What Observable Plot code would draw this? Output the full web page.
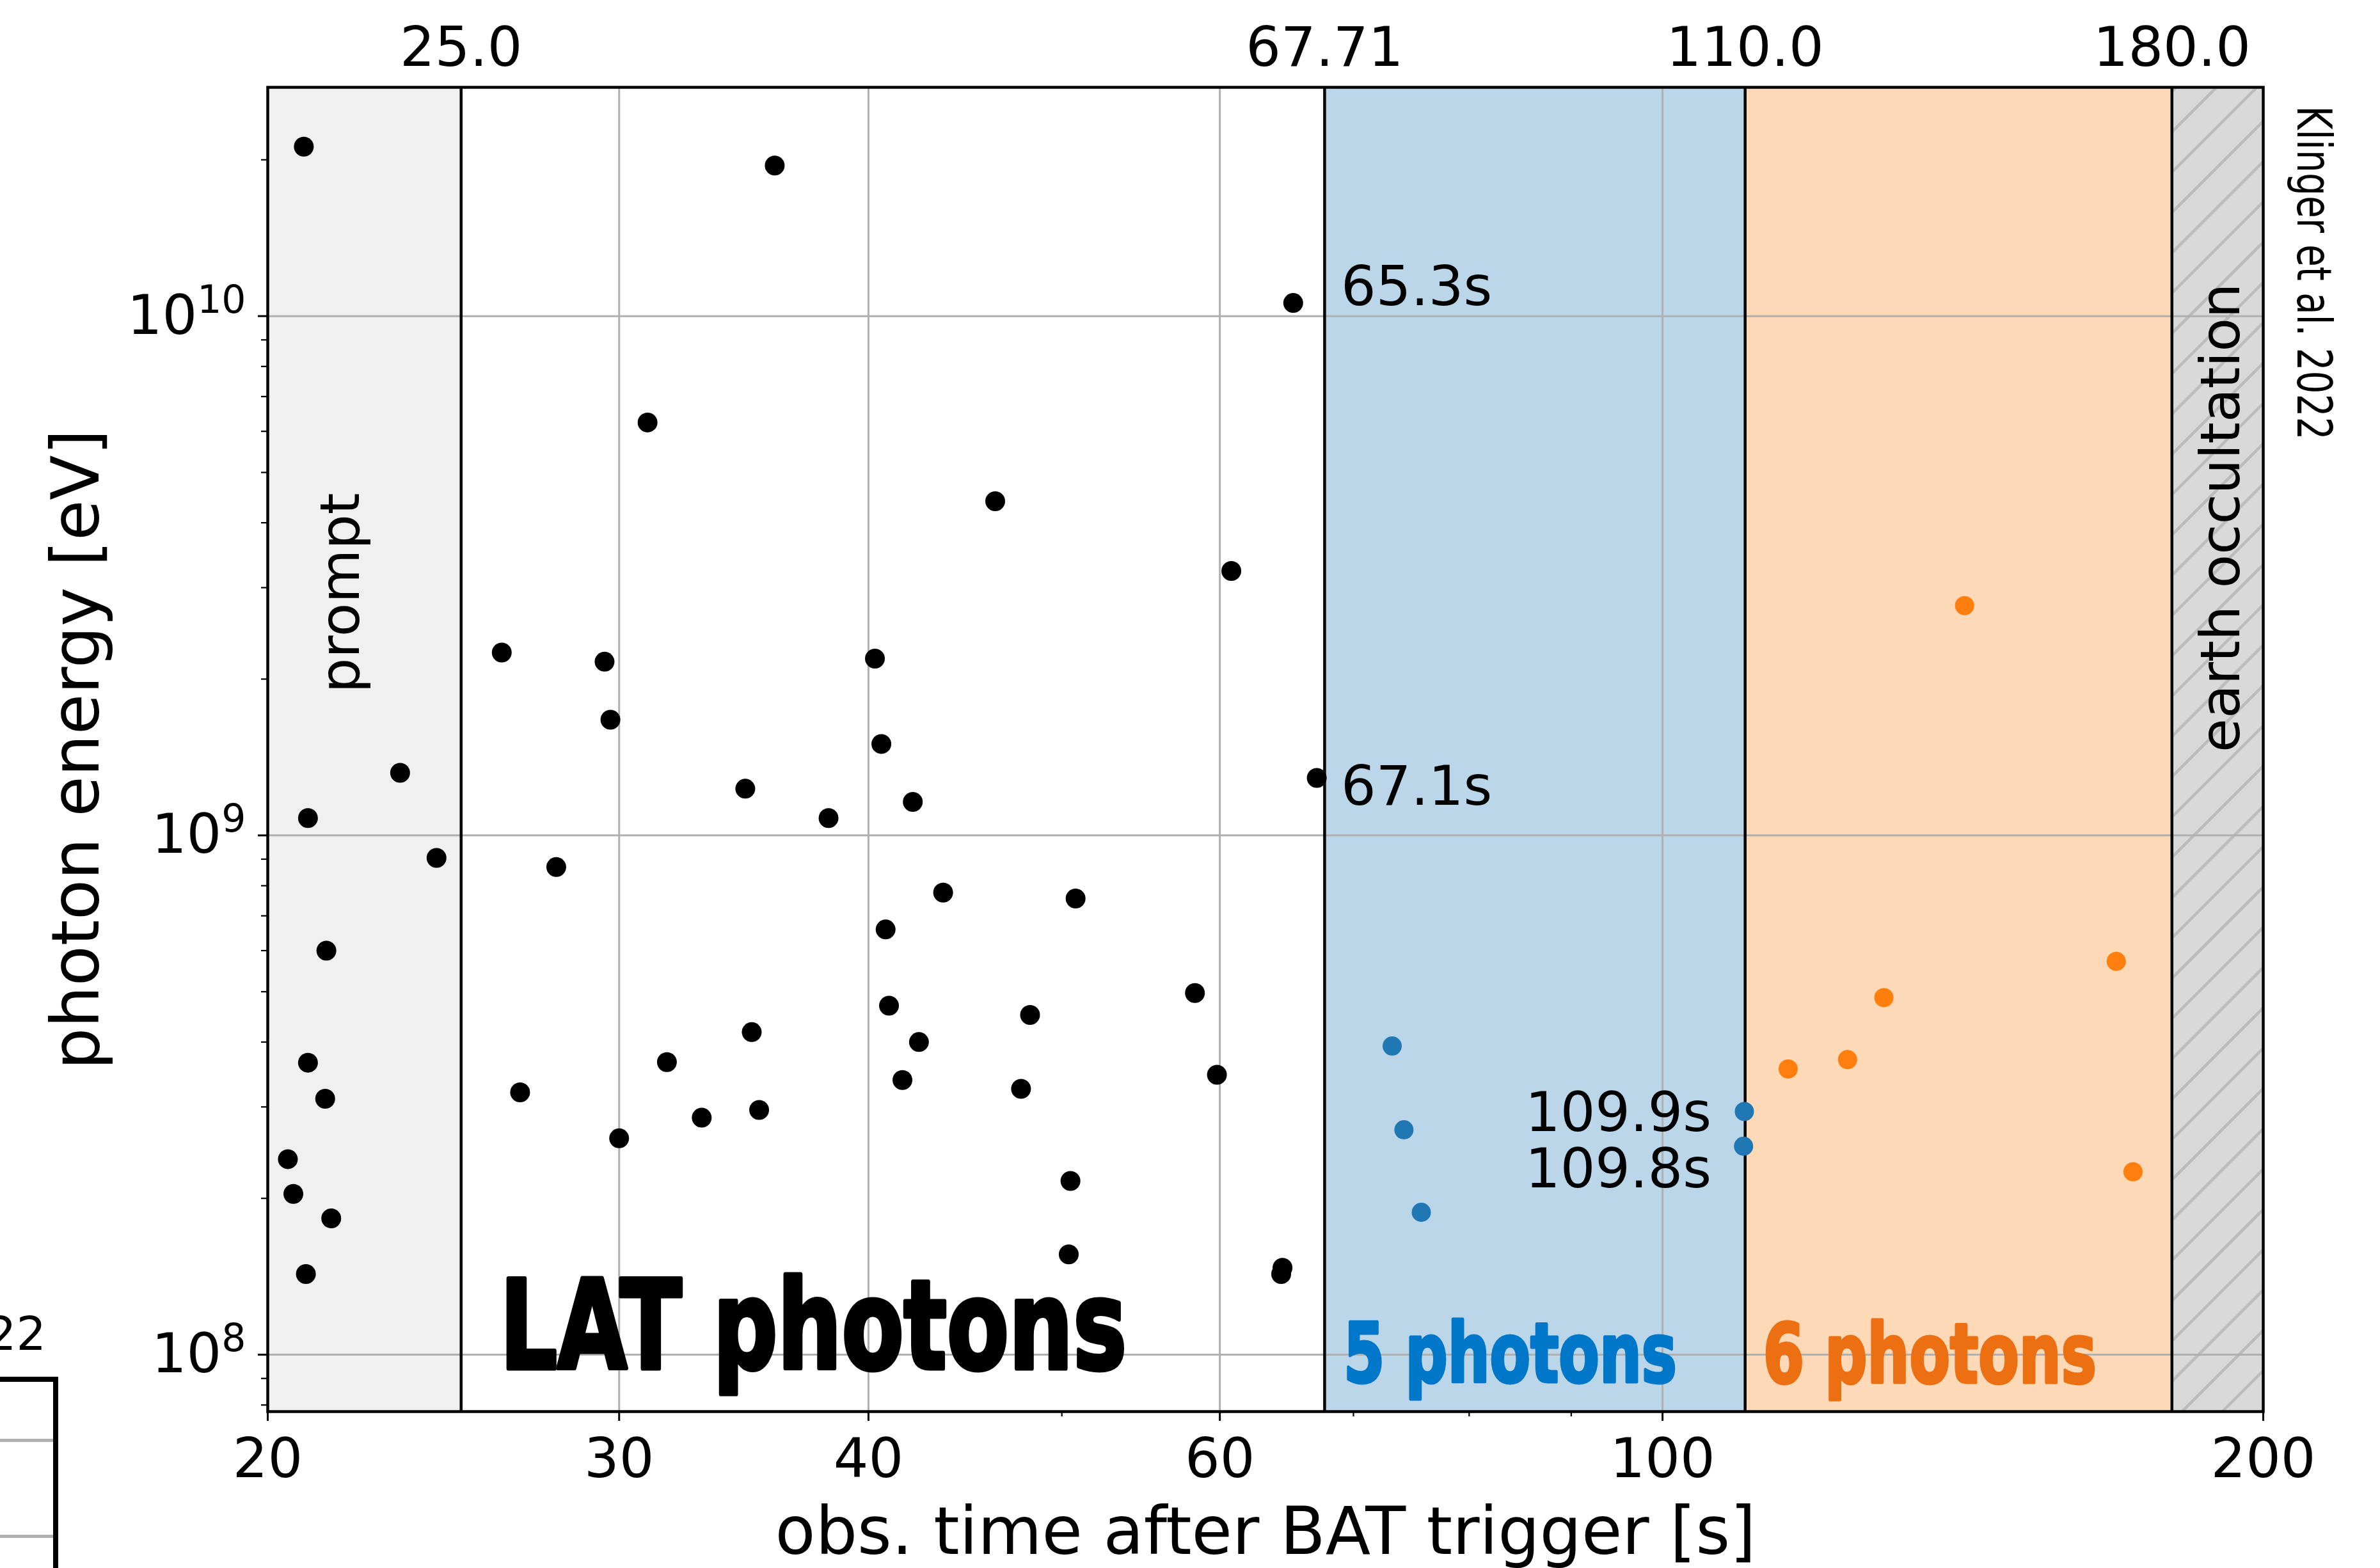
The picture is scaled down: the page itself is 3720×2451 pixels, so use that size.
<!DOCTYPE html>
<html>
<head>
<meta charset="utf-8">
<script src="https://cdn.jsdelivr.net/npm/d3@7"></script>
<script src="https://cdn.jsdelivr.net/npm/@observablehq/plot@0.6"></script>
<style>
  html, body { margin: 0; padding: 0; background: #fff; }
  #wrap { position: relative; width: 3720px; height: 2451px; overflow: hidden; background: #fff; }
  #wrap svg { display: block; }
  .frag { position: absolute; }
</style>
</head>
<body>
<div id="wrap"></div>
<script>
// ---------- data ----------
const bandStart = [20, 25, 67.71, 110, 180];
const bandEnd   = [25, 67.71, 110, 180, 200];
const bandName  = ["prompt", "lat", "five", "six", "earth"];
const boundaryTimes = [25, 67.71, 110, 180];

const topTicks = [25, 67.71, 110, 180];
const topTickLabels = ["25.0", "67.71", "110.0", "180.0"];
const xMajorTicks = [20, 30, 40, 60, 100, 200];
const xMajorLabels = ["20", "30", "40", "60", "100", "200"];
const xMinorTicks = [50, 70, 80, 90];
const xGridTicks = [30, 40, 60, 100];
const yMajorTicks = [1e8, 1e9, 1e10];
const yMajorExponents = ["8", "9", "10"];
const yMinorTicks = [8e7, 9e7, 2e8, 3e8, 4e8, 5e8, 6e8, 7e8, 8e8, 9e8,
                     2e9, 3e9, 4e9, 5e9, 6e9, 7e9, 8e9, 9e9, 2e10];

// LAT photons (black)
const latTime = [20.85, 35.9, 65.3, 31.0, 46.3, 60.8, 26.2, 29.5, 40.3, 29.7,
                 40.6, 23.3, 67.1, 34.7, 42.1, 38.2, 20.95, 24.3, 27.9, 43.6,
                 50.8, 40.8, 21.4, 58.3, 40.96, 48.2, 34.96, 42.4, 31.7, 20.95,
                 41.6, 59.8, 26.76, 47.7, 21.37, 35.26, 33.0, 30.0, 20.47, 20.6,
                 50.5, 21.52, 50.4, 64.5, 64.4, 20.9];
const latEnergy = [2.12e10, 1.95e10, 1.06e10, 6.24e9, 4.4e9, 3.23e9, 2.25e9, 2.16e9, 2.19e9, 1.67e9,
                   1.5e9, 1.32e9, 1.29e9, 1.23e9, 1.16e9, 1.08e9, 1.08e9, 9.05e8, 8.69e8, 7.76e8,
                   7.56e8, 6.59e8, 6.0e8, 4.97e8, 4.70e8, 4.51e8, 4.18e8, 4.0e8, 3.66e8, 3.65e8,
                   3.38e8, 3.46e8, 3.2e8, 3.25e8, 3.11e8, 2.96e8, 2.86e8, 2.61e8, 2.38e8, 2.04e8,
                   2.16e8, 1.83e8, 1.56e8, 1.47e8, 1.43e8, 1.43e8];
// 5 photons (blue)
const fiveTime = [73.2, 74.2, 75.7, 109.9, 109.8];
const fiveEnergy = [3.93e8, 2.71e8, 1.88e8, 2.94e8, 2.52e8];
// 6 photons (orange)
const sixTime = [115.6, 123.8, 129.1, 141.7, 168.8, 172.1];
const sixEnergy = [3.55e8, 3.70e8, 4.87e8, 2.77e9, 5.72e8, 2.25e8];

// annotations
const annoLabel = ["65.3s", "67.1s"];
const annoTime = [69.0, 69.0];
const annoEnergy = [1.134e10, 1.238e9];
const annoLabelR = ["109.9s", "109.8s"];
const annoTimeR = [105.8, 105.8];
const annoEnergyR = [2.911e8, 2.268e8];

const bigLabels = ["LAT photons", "5 photons", "6 photons"];
const bigTime = [26.14, 69.2, 112.3];
const bigEnergy = [9.42e7, 8.877e7, 8.83e7];

const regionLabels = ["prompt", "earth occultation"];
const regionTime = [21.77, 190.6];
const regionEnergy = [2.93e9, 4.09e9];

const xLabel = "obs. time after BAT trigger [s]";
const yLabel = "photon energy [eV]";
const creditLabel = "Klinger et al. 2022";

// ---------- styles ----------
const bandColor = {prompt: "#f0f0f0", lat: "#ffffff", five: "#bcd6e9", six: "#fed9b7", earth: "#d9d9d9"};
const bigColor = ["#000000", "#0077c8", "#ec7012"];

// ---------- tables ----------
const bands = bandStart.map((s, i) => ({start: s, end: bandEnd[i], name: bandName[i]}));
const lat = latTime.map((t, i) => ({t, E: latEnergy[i]}));
const five = fiveTime.map((t, i) => ({t, E: fiveEnergy[i]}));
const six = sixTime.map((t, i) => ({t, E: sixEnergy[i]}));
const annL = annoLabel.map((l, i) => ({label: l, t: annoTime[i], E: annoEnergy[i]}));
const annR = annoLabelR.map((l, i) => ({label: l, t: annoTimeR[i], E: annoEnergyR[i]}));
const big = bigLabels.map((l, i) => ({label: l, t: bigTime[i], E: bigEnergy[i], color: bigColor[i]}));
const region = regionLabels.map((l, i) => ({label: l, t: regionTime[i], E: regionEnergy[i]}));

const chart = Plot.plot({
  width: 3720,
  height: 2451,
  marginLeft: 418,
  marginRight: 183,
  marginTop: 136,
  marginBottom: 245,
  style: {fontFamily: "DejaVu Sans", fontSize: "86px", background: "white", overflow: "visible"},
  x: {type: "log", domain: [20, 200]},
  y: {type: "log", domain: [7.77e7, 2.758e10]},
  color: {type: "identity"},
  marks: [
    Plot.rect(bands, {x1: "start", x2: "end", fill: d => bandColor[d.name]}),
    Plot.rect(bands.filter(d => d.name === "earth"), {x1: "start", x2: "end", fill: "url(#hatch)"}),
    Plot.ruleX(xGridTicks, {stroke: "#b0b0b0", strokeWidth: 3}),
    Plot.ruleY(yMajorTicks, {stroke: "#b0b0b0", strokeWidth: 3}),
    Plot.ruleX(boundaryTimes, {stroke: "black", strokeWidth: 4.5}),
    Plot.frame({stroke: "black", strokeWidth: 4.5}),
    Plot.dot(lat, {x: "t", y: "E", r: 15.5, fill: "black"}),
    Plot.dot(five, {x: "t", y: "E", r: 15, fill: "#1f77b4"}),
    Plot.dot(six, {x: "t", y: "E", r: 15, fill: "#ff7f0e"}),
    Plot.text(annL, {x: "t", y: "E", text: "label", textAnchor: "start", fontSize: 86, fill: "black"}),
    Plot.text(annR, {x: "t", y: "E", text: "label", textAnchor: "end", fontSize: 86, fill: "black"}),
    Plot.text(region, {x: "t", y: "E", text: "label", rotate: -90, fontSize: 86, fill: "black"}),
    Plot.text(big.slice(0, 1), {x: "t", y: "E", text: "label", textAnchor: "start", lineAnchor: "bottom",
                    fontSize: 193, fontWeight: "bold", fill: "color", stroke: "color", strokeWidth: 7}),
    Plot.text(big.slice(1), {x: "t", y: "E", text: "label", textAnchor: "start", lineAnchor: "bottom",
                    fontSize: 129, fontWeight: "bold", fill: "color", stroke: "color", strokeWidth: 5}),
    Plot.text([xLabel], {frameAnchor: "bottom", text: d => d, textAnchor: "middle", lineAnchor: "bottom",
                         dy: 222, fontSize: 103}),
    Plot.text([yLabel], {frameAnchor: "left", text: d => d, textAnchor: "middle", lineAnchor: "middle",
                         rotate: -90, dx: -297, fontSize: 103}),
    Plot.text([creditLabel], {frameAnchor: "top-right", text: d => d, rotate: 90, textAnchor: "start",
                              lineAnchor: "bottom", dx: 53, dy: 29, fontSize: 75}),
    Plot.axisX({anchor: "bottom", ticks: xMajorTicks, tickSize: 15, tickPadding: 26, strokeWidth: 3,
                fontSize: 86, label: null, tickFormat: d => xMajorLabels[xMajorTicks.indexOf(d)]}),
    Plot.axisX({anchor: "bottom", ticks: xMinorTicks, tickSize: 8, strokeWidth: 2.2,
                label: null, tickFormat: () => ""}),
    Plot.axisX({anchor: "top", ticks: topTicks, tickSize: 0, tickPadding: 34, fontSize: 86,
                label: null, tickFormat: d => topTickLabels[topTicks.indexOf(d)]}),
    Plot.axisY({anchor: "left", ticks: yMajorTicks, tickSize: 15, tickPadding: 19, strokeWidth: 3,
                fontSize: 86, label: null, tickFormat: d => "1e" + yMajorExponents[yMajorTicks.indexOf(d)]}),
    Plot.axisY({anchor: "left", ticks: yMinorTicks, tickSize: 10, strokeWidth: 2.2,
                label: null, tickFormat: () => ""})
  ]
});

document.getElementById("wrap").appendChild(chart);

// ---------- post-processing ----------
const svg = d3.select(chart);
svg.insert("defs", ":first-child").html(
  '<pattern id="hatch" patternUnits="userSpaceOnUse" x="0" y="10" width="63" height="63">' +
  '<rect width="63" height="63" fill="#d9d9d9"/>' +
  '<path d="M-16,16 L16,-16 M0,63 L63,0 M47,79 L79,47" stroke="#bcbcbc" stroke-width="4.5"/>' +
  '</pattern>');

// superscript exponents on y tick labels
svg.selectAll("text").each(function () {
  const m = /^1e(\d+)$/.exec(this.textContent);
  if (m) {
    const t = d3.select(this);
    t.text("");
    t.append("tspan").text("10");
    t.append("tspan").attr("font-size", 60).attr("dy", -33).text(m[1]);
  }
});

// condensed labels
const fit = {"LAT photons": 980, "5 photons": 521, "6 photons": 521, "Klinger et al. 2022": 522};
svg.selectAll("text").each(function () {
  const w = fit[this.textContent];
  if (w) d3.select(this).attr("textLength", w).attr("lengthAdjust", "spacingAndGlyphs");
});

// fragment at lower left
const wrap = document.getElementById("wrap");
function addDiv(style, text) {
  const d = document.createElement("div");
  d.className = "frag";
  Object.assign(d.style, style);
  if (text) d.textContent = text;
  wrap.appendChild(d);
}
addDiv({left: "0px", top: "2152px", width: "91px", height: "8px", background: "#000"});
addDiv({left: "83px", top: "2152px", width: "8px", height: "299px", background: "#000"});
addDiv({left: "0px", top: "2249px", width: "83px", height: "5px", background: "#b0b0b0"});
addDiv({left: "0px", top: "2399px", width: "83px", height: "5px", background: "#b0b0b0"});
addDiv({left: "-30px", top: "2040px", width: "102px", textAlign: "right", font: "73px 'DejaVu Sans'", lineHeight: "90px", color: "#000"}, "22");
</script>
</body>
</html>
